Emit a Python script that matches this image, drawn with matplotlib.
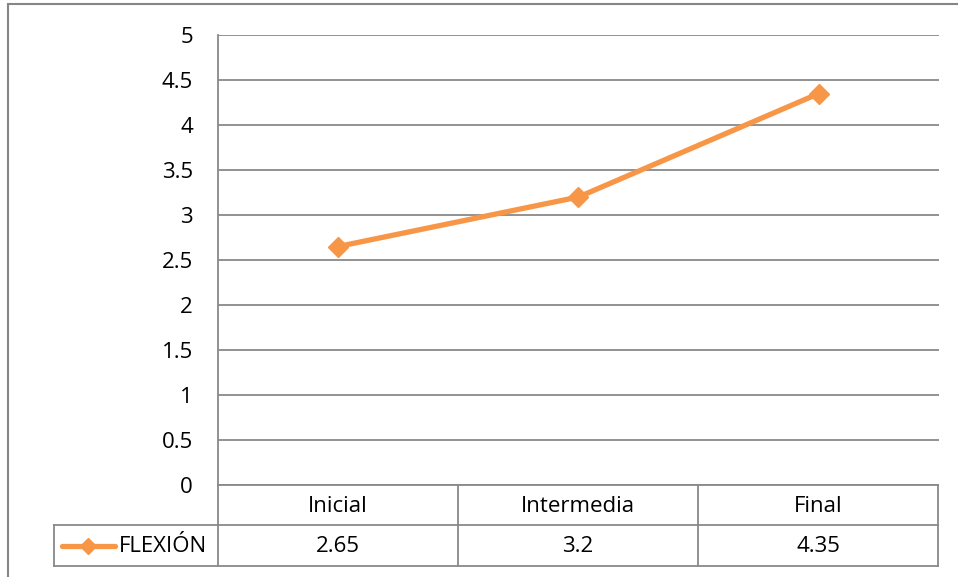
import matplotlib
matplotlib.use("Agg")
import matplotlib.pyplot as plt
from matplotlib.lines import Line2D
from matplotlib.patches import Rectangle

categories = ["Inicial", "Intermedia", "Final"]
values = [2.65, 3.2, 4.35]
series_name = "FLEXIÓN"
yticks = [0, 0.5, 1, 1.5, 2, 2.5, 3, 3.5, 4, 4.5, 5]
ytick_labels = ["0", "0.5", "1", "1.5", "2", "2.5", "3", "3.5", "4", "4.5", "5"]

W, H = 958, 577
plt.rcParams['font.family'] = ['Open Sans', 'DejaVu Sans']
FS = 16
ORANGE = "#F79646"
GRID = "#898989"
LW = 3.8
MS = 10.5

fig = plt.figure(figsize=(W / 100, H / 100), dpi=100)
fig.patch.set_facecolor("white")

def fx(px):
    return px / W

def fy(py):
    return 1 - py / H

# outer frame
fig.add_artist(Rectangle((fx(8), fy(H + 10)), fx(W + 20), fy(4) - fy(H + 10),
                         transform=fig.transFigure, fill=False,
                         edgecolor="#868686", linewidth=1.5))

L, R, T, B = 218, 939, 35, 485
ax = fig.add_axes([fx(L), fy(B), fx(R) - fx(L), fy(T) - fy(B)])
x = list(range(len(categories)))
ax.plot(x, values, color=ORANGE, linewidth=LW, marker="D", markersize=MS,
        markerfacecolor=ORANGE, markeredgecolor=ORANGE, solid_capstyle="round")
ax.set_xlim(-0.5, len(categories) - 0.5)
ax.set_ylim(0, 5)
ax.set_yticks(yticks)
ax.set_yticklabels(ytick_labels, fontsize=FS)
ax.yaxis.grid(True, color=GRID, linewidth=1.3)
ax.set_axisbelow(True)
ax.tick_params(axis="y", length=0, pad=18)
ax.tick_params(axis="x", length=0, labelbottom=False)
ax.set_xticks([])
for s in ["top", "right", "bottom"]:
    ax.spines[s].set_visible(False)
ax.spines["left"].set_color(GRID)
ax.spines["left"].set_linewidth(1.3)

# data table
r1, r2, r3 = 485, 525, 566
cols = [218, 458, 698, 938]
leg_left = 54

def hline(y, x0, x1):
    fig.add_artist(Line2D([fx(x0), fx(x1)], [fy(y), fy(y)], transform=fig.transFigure,
                          color=GRID, linewidth=1.3))

def vline(xp, y0, y1):
    fig.add_artist(Line2D([fx(xp), fx(xp)], [fy(y0), fy(y1)], transform=fig.transFigure,
                          color=GRID, linewidth=1.3))

hline(r1, cols[0], cols[-1])
hline(r2, leg_left, cols[-1])
hline(r3, leg_left, cols[-1])
for c in cols:
    vline(c, r1, r3)
vline(leg_left, r2, r3)

for i, (cat, v) in enumerate(zip(categories, values)):
    cx = (cols[i] + cols[i + 1]) / 2
    fig.text(fx(cx), fy((r1 + r2) / 2 + 1), cat, ha="center", va="center", fontsize=FS)
    fig.text(fx(cx), fy((r2 + r3) / 2 + 1), f"{v:g}", ha="center", va="center", fontsize=FS)

# legend key
ky = (r2 + r3) / 2
fig.add_artist(Line2D([fx(62), fx(115)], [fy(ky), fy(ky)], transform=fig.transFigure,
                      color=ORANGE, linewidth=LW, solid_capstyle="round"))
fig.add_artist(Line2D([fx(88)], [fy(ky)], transform=fig.transFigure, color=ORANGE,
                      marker="D", markersize=MS * 0.8, markeredgecolor=ORANGE, linestyle="none"))
fig.text(fx(119), fy(ky + 1), series_name, ha="left", va="center", fontsize=FS)

fig.savefig("out.png", dpi=100, facecolor="white")
